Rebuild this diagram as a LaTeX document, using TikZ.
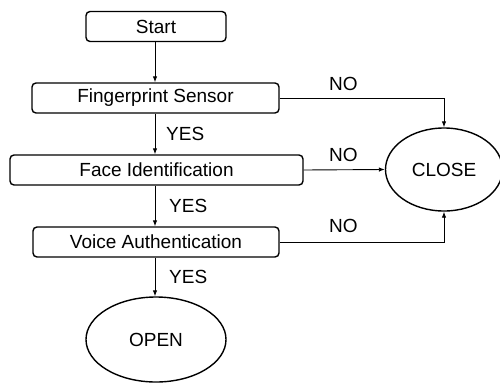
\documentclass[tikz,border=0pt]{standalone}
\usepackage{fontspec}
\setmainfont{Liberation Sans}
\usetikzlibrary{arrows.meta,shapes.geometric}
\begin{document}
\begin{tikzpicture}[x=1pt,y=-1pt,
  font=\fontsize{19}{21}\selectfont,
  boxnode/.style={draw, rounded corners=4pt, line width=1.4pt, inner sep=0pt, minimum height=30pt},
  ovalnode/.style={draw, ellipse, line width=1.4pt, inner sep=0pt},
  conn/.style={line width=0.9pt, -{Latex[length=6pt,width=4.5pt]}},
  lbl/.style={inner sep=0pt, anchor=west}]
\useasboundingbox (0,0) rectangle (500,383);
\node[boxnode, minimum width=140pt] (start) at (156,26.5) {Start};
\node[boxnode, minimum width=247pt] (fp) at (155.5,98) {Fingerprint Sensor};
\node[boxnode, minimum width=293pt] (face) at (156.5,170) {Face Identification};
\node[boxnode, minimum width=246pt] (voice) at (156,242) {Voice Authentication};
\node[ovalnode, minimum width=140pt, minimum height=85pt] (open) at (156,339.5) {OPEN};
\node[ovalnode, minimum width=117pt, minimum height=83pt] (close) at (444,169.5) {CLOSE};
\draw[conn] (start.south -| 155,0) -- (fp.north -| 155,0);
\draw[conn] (fp.south -| 155,0) -- (face.north -| 155,0);
\draw[conn] (face.south -| 155,0) -- (voice.north -| 155,0);
\draw[conn] (voice.south -| 155,0) -- (open.north -| 155,0);
\draw[conn] (fp.east) -| (close.north);
\draw[conn] (face.east) -- (close.west);
\draw[conn] (voice.east) -| (close.south);
\node[lbl] (y1) at (166,134) {YES};
\node[lbl] (y2) at (169,206) {YES};
\node[lbl] (y3) at (169,277) {YES};
\node[lbl] (n1) at (329,84) {NO};
\node[lbl] (n2) at (329,155) {NO};
\node[lbl] (n3) at (329,226) {NO};
\end{tikzpicture}
\end{document}
